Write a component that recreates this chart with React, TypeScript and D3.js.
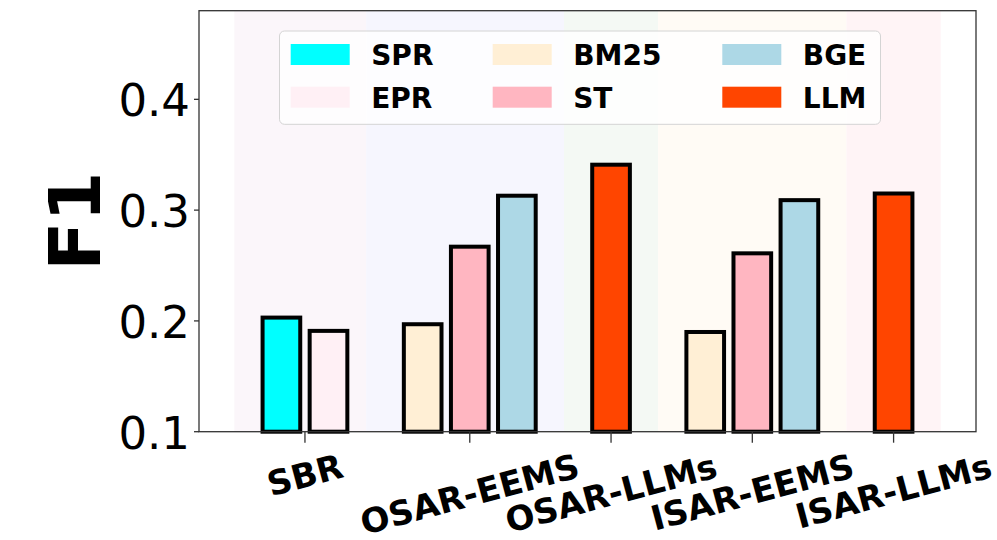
import { useEffect, useRef } from 'react';
import * as d3 from 'd3';

// groups along the x axis
const categories = ['SBR', 'OSAR-EEMS', 'OSAR-LLMs', 'ISAR-EEMS', 'ISAR-LLMs'];
// methods drawn in each group
const groupMethods = [['SPR', 'EPR'], ['BM25', 'ST', 'BGE'], ['LLM'], ['BM25', 'ST', 'BGE'], ['LLM']];
// F1 values, same shape as groupMethods
const groupValues = [[0.203, 0.191], [0.197, 0.267, 0.313], [0.341], [0.190, 0.261, 0.309], [0.315]];

const legendMethods = ['SPR', 'EPR', 'BM25', 'ST', 'BGE', 'LLM'];
const methodColors = ['#00ffff', '#fff0f5', '#ffefd5', '#ffb6c1', '#add8e6', '#ff4500'];

// shaded background spans (x in bar slots)
const bandEdges = [-1.5, 1.3, 5.5, 7.5, 11.5, 13.5];
const bandColors = ['#fbf6fa', '#f6f6fe', '#f4f9f4', '#fffbf5', '#fff4f6'];

const yTicks = [0.1, 0.2, 0.3, 0.4];

const FONT = 'DejaVu Sans';

const App = () => {
  const svgRef = useRef<SVGSVGElement>(null);

  useEffect(() => {
    const width = 997;
    const height = 540;
    const margin = { top: 10.7, right: 21, bottom: 108.3, left: 199 };

    const svg = d3.select(svgRef.current).attr('width', width).attr('height', height);
    svg.selectAll('*').remove();

    const color = d3.scaleOrdinal<string, string>().domain(legendMethods).range(methodColors);

    // bar slot positions: bars one slot apart, one empty slot between groups
    const bars: { method: string; value: number; pos: number }[] = [];
    const centers: number[] = [];
    let start = -0.5;
    groupMethods.forEach((ms, g) => {
      ms.forEach((m, i) => bars.push({ method: m, value: groupValues[g][i], pos: start + i }));
      centers.push(start + (ms.length - 1) / 2);
      start += ms.length + 1;
    });

    const x = d3.scaleLinear()
      .domain([-2.25, 14.25])
      .range([margin.left, width - margin.right]);
    const y = d3.scaleLinear()
      .domain([0.1, 0.48])
      .range([height - margin.bottom, margin.top]);

    const y0 = height - margin.bottom;

    // background spans
    svg.append('g')
      .selectAll('rect')
      .data(bandColors)
      .enter()
      .append('rect')
      .attr('x', (_, i) => x(bandEdges[i]))
      .attr('width', (_, i) => x(bandEdges[i + 1]) - x(bandEdges[i]))
      .attr('y', margin.top)
      .attr('height', y0 - margin.top)
      .attr('fill', d => d);

    // bars
    const bw = x(0.8) - x(0);
    svg.append('g')
      .selectAll('rect')
      .data(bars)
      .enter()
      .append('rect')
      .attr('x', d => x(d.pos) - bw / 2)
      .attr('width', bw)
      .attr('y', d => y(d.value))
      .attr('height', d => y0 - y(d.value))
      .attr('fill', d => color(d.method))
      .attr('stroke', '#000')
      .attr('stroke-width', 4);

    // frame
    svg.append('rect')
      .attr('x', margin.left)
      .attr('y', margin.top)
      .attr('width', width - margin.right - margin.left)
      .attr('height', y0 - margin.top)
      .attr('fill', 'none')
      .attr('stroke', '#333')
      .attr('stroke-width', 1.3);

    // y axis
    const yAxis = svg.append('g');
    yAxis.selectAll('line')
      .data(yTicks)
      .enter()
      .append('line')
      .attr('x1', margin.left - 5)
      .attr('x2', margin.left)
      .attr('y1', d => y(d))
      .attr('y2', d => y(d))
      .attr('stroke', '#333')
      .attr('stroke-width', 1.3);
    yAxis.selectAll('text')
      .data(yTicks)
      .enter()
      .append('text')
      .attr('x', margin.left - 9)
      .attr('y', d => y(d) + 17)
      .attr('text-anchor', 'end')
      .attr('font-family', FONT)
      .attr('font-size', 45)
      .text(d => d3.format('.1f')(d));

    svg.append('text')
      .attr('transform', `translate(${100}, ${(margin.top + y0) / 2}) rotate(-90)`)
      .attr('text-anchor', 'middle')
      .attr('font-family', FONT)
      .attr('font-weight', 'bold')
      .attr('font-size', 72)
      .text('F1');

    // x axis
    const xAxis = svg.append('g');
    xAxis.selectAll('line')
      .data(centers)
      .enter()
      .append('line')
      .attr('x1', d => x(d))
      .attr('x2', d => x(d))
      .attr('y1', y0)
      .attr('y2', y0 + 11)
      .attr('stroke', '#333')
      .attr('stroke-width', 1.3);

    const fs = 34;
    const ang = (15 * Math.PI) / 180;
    const labelTop = 446;
    categories.forEach((c, i) => {
      const t = xAxis.append('text')
        .attr('font-family', FONT)
        .attr('font-weight', 'bold')
        .attr('font-size', fs)
        .attr('text-anchor', 'middle')
        .attr('dominant-baseline', 'central')
        .text(c);
      const w = (t.node() as SVGTextElement).getComputedTextLength();
      const h = fs * 1.164;
      const bh = w * Math.sin(ang) + h * Math.cos(ang);
      t.attr('transform', `translate(${x(centers[i])}, ${labelTop + bh / 2}) rotate(-15)`);
    });

    // legend
    const lg = svg.append('g');
    lg.append('rect')
      .attr('x', 279.5)
      .attr('y', 31)
      .attr('width', 601)
      .attr('height', 93.3)
      .attr('rx', 5)
      .attr('fill', '#fff')
      .attr('fill-opacity', 0.8)
      .attr('stroke', '#d4d4d4')
      .attr('stroke-width', 1);
    const colX = [290.7, 492.7, 722.3];
    const rowY = [44, 86.7];
    legendMethods.forEach((m, i) => {
      const cx = colX[Math.floor(i / 2)];
      const ry = rowY[i % 2];
      lg.append('rect')
        .attr('x', cx)
        .attr('y', ry)
        .attr('width', 59)
        .attr('height', 21)
        .attr('fill', color(m));
      lg.append('text')
        .attr('x', cx + 80.5)
        .attr('y', ry + 21)
        .attr('font-family', FONT)
        .attr('font-weight', 'bold')
        .attr('font-size', 28)
        .text(m);
    });
  }, []);

  return <svg ref={svgRef} style={{ position: 'absolute', left: 0, top: 0 }}></svg>;
};

export default App;
